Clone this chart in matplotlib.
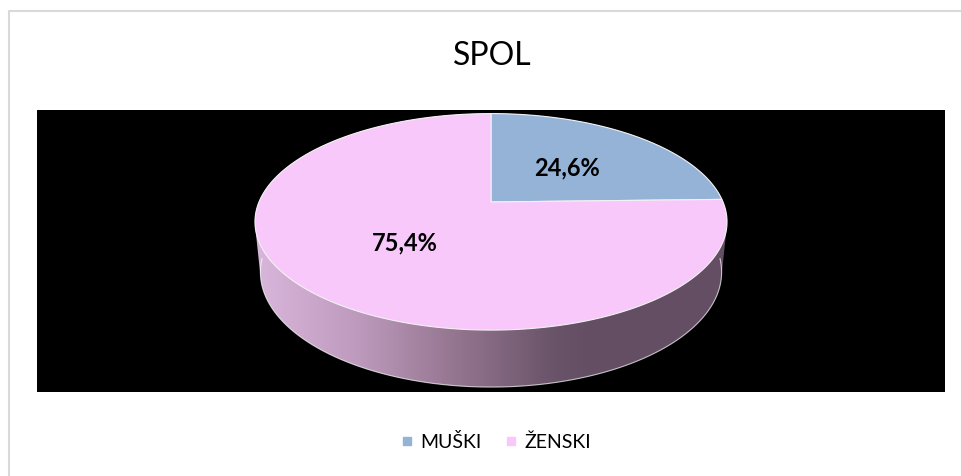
import numpy as np
import matplotlib
matplotlib.use("Agg")
import matplotlib.pyplot as plt
from matplotlib.patches import Polygon, Rectangle
from matplotlib.lines import Line2D
from matplotlib.colors import LinearSegmentedColormap

plt.rcParams['font.family'] = ['Lato', 'DejaVu Sans']

# data
labels = ["MUŠKI", "ŽENSKI"]
values = [24.6, 75.4]
label_text = ["24,6%", "75,4%"]
colors = ["#95B3D7", "#F9C8FA"]
title = "SPOL"

W, H = 961, 476
fig = plt.figure(figsize=(W / 100, H / 100), dpi=100)
ax = fig.add_axes([0, 0, 1, 1])
ax.set_xlim(0, W)
ax.set_ylim(H, 0)
ax.axis("off")

# frame + black plot area
ax.plot([8.5, 8.5, W], [H, 10.5, 10.5], color="#D9D9D9", lw=1.5)
ax.add_patch(Rectangle((37, 110), 908, 282, facecolor="black", edgecolor="none"))

# 3d pie with perspective
cx, cy = 491, 202
phi = np.radians(26.8)
D, f, h = 4.87, 1130, 0.245


def project(theta, r=1.0, z=0.0):
    x = r * np.cos(theta)
    y = r * np.sin(theta)
    v = y * np.sin(phi) + z * np.cos(phi)
    w = D + y * np.cos(phi) - z * np.sin(phi)
    return cx + f * x / w, cy - f * v / w


def hull(pts):
    pts = sorted(set(map(tuple, pts)))
    def cross(o, a, b):
        return (a[0] - o[0]) * (b[1] - o[1]) - (a[1] - o[1]) * (b[0] - o[0])
    lower, upper = [], []
    for p in pts:
        while len(lower) >= 2 and cross(lower[-2], lower[-1], p) <= 0:
            lower.pop()
        lower.append(p)
    for p in reversed(pts):
        while len(upper) >= 2 and cross(upper[-2], upper[-1], p) <= 0:
            upper.pop()
        upper.append(p)
    return np.array(lower[:-1] + upper[:-1])


t = np.linspace(0, 2 * np.pi, 400)
tx, ty = project(t)
bx, by = project(t, z=-h)
side = hull(np.column_stack([np.r_[tx, bx], np.r_[ty, by]]))
side_patch = Polygon(side, closed=True, facecolor="none", edgecolor="none")
ax.add_patch(side_patch)

cmap = LinearSegmentedColormap.from_list(
    "side", [(0, "#D9B6DB"), (0.3, "#BE9BBE"), (0.6, "#94758F"),
             (0.9, "#685368"), (1, "#634E63")])
grad = np.linspace(0, 1, 256).reshape(1, -1)
x0, x1 = side[:, 0].min(), 590
im = ax.imshow(grad, cmap=cmap, extent=(x0, x1, side[:, 1].max(), side[:, 1].min()),
               aspect="auto", zorder=2)
im.set_clip_path(side_patch)
ax.add_patch(Rectangle((x1, side[:, 1].min()), side[:, 0].max() - x1 + 2,
                       side[:, 1].max() - side[:, 1].min(), facecolor="#634E63",
                       edgecolor="none", zorder=2, clip_path=side_patch))
# light rim along the bottom edge
tb = np.linspace(np.pi * 1.02, np.pi * 1.98, 200)
rx, ry = project(tb, z=-h)
ax.plot(rx, ry, color="white", lw=0.8, alpha=0.7, zorder=2.5)
ax.set_xlim(0, W)
ax.set_ylim(H, 0)

# top slices, clockwise from 12 o'clock
start = np.pi / 2
for val, col, txt in zip(values, colors, label_text):
    span = val / sum(values) * 2 * np.pi
    th = np.linspace(start, start - span, 200)
    px, py = project(th)
    poly = np.column_stack([np.r_[cx, px], np.r_[cy, py]])
    ax.add_patch(Polygon(poly, closed=True, facecolor=col, edgecolor="#F2F2F2",
                         lw=0.8, zorder=3))
    lx, ly = project(start - span / 2, r=0.5)
    ax.text(lx, ly + 8.5, txt, ha="center", va="baseline", fontsize=17,
            fontweight="bold", color="black", zorder=4)
    start -= span

ax.text(492, 65, title, ha="center", va="baseline", fontsize=23, color="black")

handles = [Line2D([], [], marker="s", ls="", color=c, markersize=5.5) for c in colors]
ax.legend(handles, labels, loc="center", bbox_to_anchor=(496 / W, 1 - 442 / H),
          ncol=2, frameon=False, fontsize=14, handlelength=0.6, handletextpad=0.4,
          columnspacing=1.2)

fig.savefig("out.png", dpi=100, facecolor="white")
